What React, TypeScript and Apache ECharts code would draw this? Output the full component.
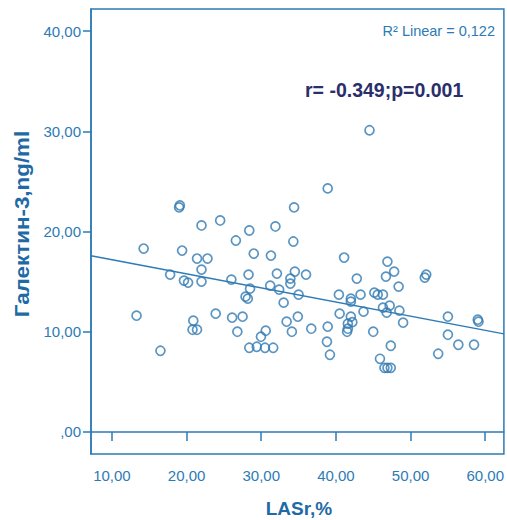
import React, { useEffect, useRef } from "react";
import * as echarts from "echarts";

// LASr, % (x) and Galectin-3, ng/ml (y)
const lasr = [
  13.3, 14.25, 16.5, 17.8, 19.0, 19.1, 19.4, 19.65, 20.2, 20.9,
  20.8, 21.4, 21.4, 22.0, 22.8, 22.0, 22.0, 23.9, 24.5, 26.0,
  26.1, 26.6, 26.8, 27.5, 27.9, 28.2, 28.3, 28.4, 28.4, 28.5,
  29.0, 29.4, 29.96, 30.5, 30.6, 31.2, 31.3, 31.6, 31.9, 32.1,
  32.4, 33.0, 33.4, 33.9, 33.9, 34.1, 34.3, 34.4, 34.5, 34.9,
  35.0, 36.0, 36.7, 38.8, 38.9, 38.9, 39.2, 40.4, 40.5, 41.1,
  41.6, 41.6, 41.5, 42.0, 42.2, 42.0, 42.0, 42.8, 43.3, 43.7,
  44.5, 45.0, 45.15, 45.6, 45.9, 46.3, 46.3, 46.5, 46.8, 46.7,
  46.9, 46.9, 47.2, 47.35, 47.35, 47.8, 48.4, 48.5, 49.0, 51.9,
  52.1, 53.7, 55.0, 55.0, 56.4, 58.5, 59.0, 59.1,
];
const galectin = [
  11.6, 18.3, 8.1, 15.7, 22.4, 22.6, 18.1, 15.1, 14.9, 11.1,
  10.2, 10.2, 17.3, 20.6, 17.3, 16.2, 15.0, 11.8, 21.1, 15.2,
  11.4, 19.1, 10.0, 11.5, 13.5, 13.3, 15.7, 8.4, 20.1, 14.3,
  17.8, 8.5, 9.5, 8.4, 10.1, 14.6, 17.6, 8.4, 20.5, 15.8,
  14.2, 12.9, 11.0, 15.3, 14.8, 10.0, 19.0, 22.4, 16.0, 11.5,
  13.7, 15.7, 10.3, 9.0, 10.5, 24.3, 7.7, 13.7, 11.8, 17.4,
  10.8, 10.3, 10.0, 11.5, 10.95, 13.3, 13.0, 15.3, 13.7, 12.0,
  30.1, 10.0, 13.9, 13.7, 7.3, 12.4, 13.7, 6.4, 11.9, 15.5,
  17.0, 6.4, 12.6, 8.6, 6.4, 16.0, 14.5, 12.1, 10.9, 15.4,
  15.7, 7.8, 11.5, 9.7, 8.7, 8.7, 11.2, 11.0,
];

const xTicks = [10, 20, 30, 40, 50, 60];
const yTicks = [0, 10, 20, 30, 40];

// linear fit
const fitIntercept = 18.6;
const fitSlope = -0.141;

const xMin = 7.2;
const xMax = 62.5;
const yMin = -2.2;
const yMax = 42.2;

const BLUE = "#2d7bb5";
const POINT = "#3179b2";
const FONT = "'Liberation Sans', Arial, sans-serif";

const fmt = (v: number) => (v === 0 ? ",00" : v.toFixed(2).replace(".", ","));

export default function App() {
  const ref = useRef<HTMLDivElement>(null);

  useEffect(() => {
    if (!ref.current) return;
    const chart = echarts.init(ref.current, undefined, { renderer: "svg" });
    const points = lasr.map((x, i) => [x, galectin[i]]);
    const fit = [
      [xMin, fitIntercept + fitSlope * xMin],
      [xMax, fitIntercept + fitSlope * xMax],
    ];
    chart.setOption({
      animation: false,
      backgroundColor: "#ffffff",
      grid: {
        left: 91,
        right: 0,
        top: 9,
        bottom: 66,
        show: true,
        borderColor: BLUE,
        borderWidth: 1.5,
        backgroundColor: "transparent",
      },
      xAxis: {
        type: "value",
        min: xMin,
        max: xMax,
        axisLine: { show: true, lineStyle: { color: BLUE, width: 1.5 } },
        axisTick: {
          show: true,
          customValues: xTicks,
          length: 9,
          lineStyle: { color: BLUE, width: 1.5 },
        },
        axisLabel: {
          customValues: xTicks,
          formatter: fmt,
          color: BLUE,
          fontSize: 15,
          fontFamily: FONT,
          margin: 14,
        },
        splitLine: { show: false },
      },
      yAxis: {
        type: "value",
        min: yMin,
        max: yMax,
        axisLine: { show: true, lineStyle: { color: BLUE, width: 1.5 } },
        axisTick: {
          show: true,
          customValues: yTicks,
          length: 8,
          lineStyle: { color: BLUE, width: 1.5 },
        },
        axisLabel: {
          customValues: yTicks,
          formatter: fmt,
          color: BLUE,
          fontSize: 15,
          fontFamily: FONT,
          margin: 10,
        },
        splitLine: { show: false },
      },
      series: [
        {
          type: "line",
          data: fit,
          showSymbol: false,
          symbol: "none",
          lineStyle: { color: BLUE, width: 1.4 },
          z: 1,
          silent: true,
        },
        {
          type: "scatter",
          data: points,
          symbol: "circle",
          symbolSize: 9,
          itemStyle: { color: "rgba(255,255,255,0)", borderColor: POINT, borderWidth: 1.7 },
          z: 2,
        },
      ],
      graphic: [
        {
          type: "text",
          x: 495,
          y: 31,
          style: {
            text: "R² Linear = 0,122",
            fill: BLUE,
            font: `14.5px ${FONT}`,
            textAlign: "right",
            textVerticalAlign: "middle",
          },
        },
        {
          type: "text",
          x: 305,
          y: 90,
          style: {
            text: "r= -0.349;p=0.001",
            fill: "#2a2f6a",
            font: `bold 19.5px ${FONT}`,
            textAlign: "left",
            textVerticalAlign: "middle",
          },
        },
        {
          type: "text",
          x: 299,
          y: 508,
          style: {
            text: "LASr,%",
            fill: "#1f6aa5",
            font: `bold 19px ${FONT}`,
            textAlign: "center",
            textVerticalAlign: "middle",
          },
        },
        {
          type: "text",
          x: 22,
          y: 224,
          rotation: Math.PI / 2,
          scaleX: 1.12,
          style: {
            text: "Галектин-3,ng/ml",
            fill: "#1f6aa5",
            font: `bold 20px ${FONT}`,
            textAlign: "center",
            textVerticalAlign: "middle",
          },
        },
      ],
    });
    return () => chart.dispose();
  }, []);

  return (
    <div
      ref={ref}
      style={{ position: "fixed", left: 0, top: 0, width: 507, height: 520 }}
    />
  );
}
